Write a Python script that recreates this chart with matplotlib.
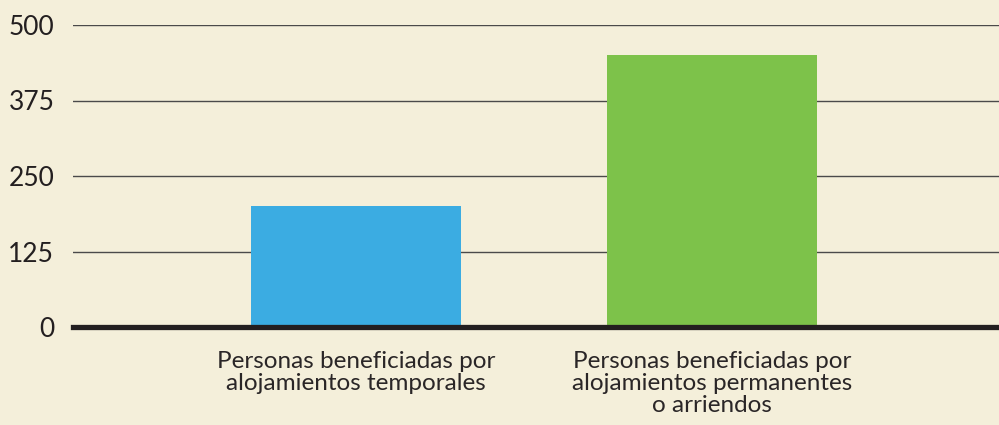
import matplotlib
matplotlib.use("Agg")
import matplotlib.pyplot as plt

categories = ["Personas beneficiadas por\nalojamientos temporales",
              "Personas beneficiadas por\nalojamientos permanentes\no arriendos"]
values = [200, 450]
colors = ["#3BACE2", "#7DC24A"]
yticks = [0, 125, 250, 375, 500]

bg = "#F4EFDA"
txt = "#231F20"
plt.rcParams['font.family'] = ['Lato', 'DejaVu Sans']

fig = plt.figure(figsize=(9.99, 4.25), dpi=100, facecolor=bg)
ax = fig.add_axes([73/999, 1-327/425, 1-73/999, (327-25)/425])
ax.set_facecolor(bg)

x = list(range(len(categories)))
ax.set_ylim(0, 500)
ax.set_xlim(-0.795, 1.805)
ax.set_yticks(yticks)
for t in yticks[1:]:
    ax.axhline(t, color="#4A4A4A", lw=1.0, zorder=1)
ax.bar(x, values, width=0.59, color=colors, zorder=2)
ax.axhline(0, color=txt, lw=3.8, zorder=3, clip_on=False)

for s in ax.spines.values():
    s.set_visible(False)
ax.set_xticks(x)
ax.set_xticklabels(categories, fontsize=17.5, color="#2A2627", linespacing=1.07)
ax.tick_params(axis='x', length=0, pad=17)
ax.tick_params(axis='y', length=0, pad=13.5, labelsize=19, labelcolor=txt)

fig.savefig("out.png", dpi=100, facecolor=bg)
